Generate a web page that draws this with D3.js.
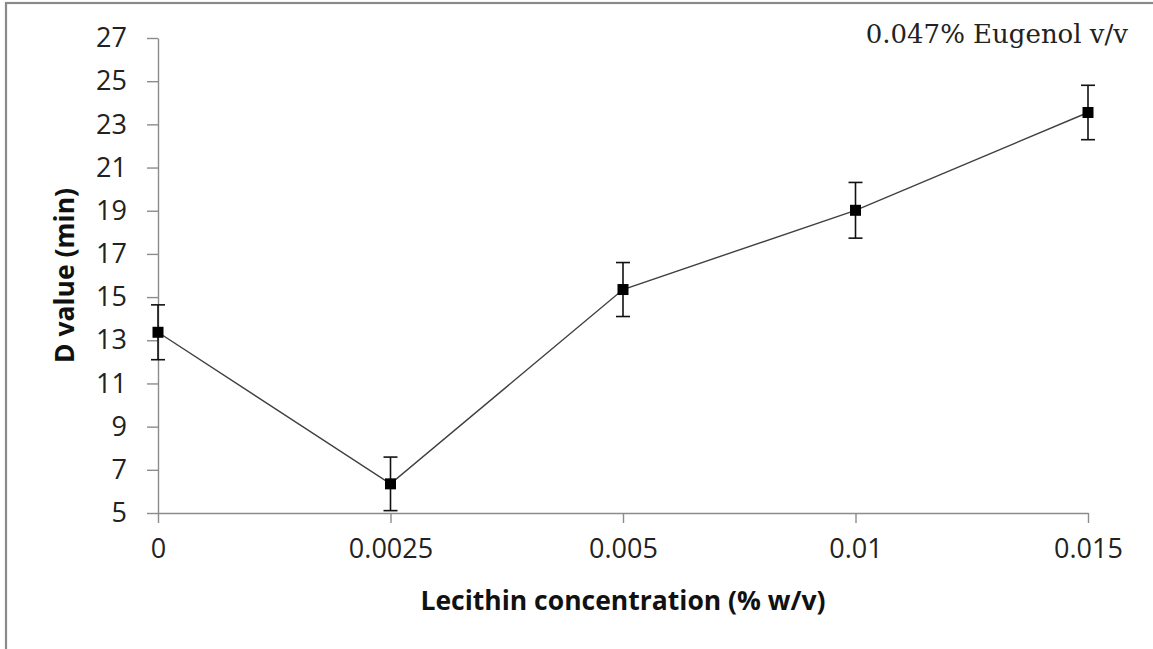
<!DOCTYPE html>
<html>
<head>
<meta charset="utf-8">
<script src="https://cdn.jsdelivr.net/npm/d3@7"></script>
<style>
  body { margin: 0; background: #fff; }
  svg { display: block; }
</style>
</head>
<body>
<svg id="chart" width="1153" height="649"></svg>
<script>
// data
var categories = ["0", "0.0025", "0.005", "0.01", "0.015"];
var dValues = [13.37, 6.35, 15.35, 19.02, 23.55];
var dErrors = [1.27, 1.24, 1.25, 1.29, 1.26];
var yTicks = [5, 7, 9, 11, 13, 15, 17, 19, 21, 23, 25, 27];

var svg = d3.select("#chart");
var width = 1153, height = 649;
var margin = { left: 158, right: 65, top: 38, bottom: 136 };

// outer frame (only top and left edges fall inside the picture)
svg.append("rect")
    .attr("x", 6).attr("y", 3)
    .attr("width", width + 20).attr("height", height + 20)
    .attr("fill", "none")
    .attr("stroke", "#8a8a8a")
    .attr("stroke-width", 2.2);

var x = d3.scalePoint()
    .domain(categories)
    .range([margin.left, width - margin.right]);

var y = d3.scaleLinear()
    .domain([5, 27])
    .range([height - margin.bottom, margin.top]);

var axisColor = "#8c8c8c";
var tickFont = "'Open Sans', 'Noto Sans', sans-serif";

// y axis
var gy = svg.append("g")
    .attr("transform", "translate(" + margin.left + ",0)")
    .call(d3.axisLeft(y).tickValues(yTicks).tickSize(11).tickPadding(20).tickSizeOuter(0));
gy.select(".domain").attr("stroke", axisColor).attr("stroke-width", 1.4);
gy.selectAll(".tick line").attr("stroke", axisColor).attr("stroke-width", 1.4);
gy.selectAll(".tick text")
    .attr("fill", "#222")
    .style("font-family", tickFont)
    .style("font-size", "27px");

// x axis
var gx = svg.append("g")
    .attr("transform", "translate(0," + y(5) + ")")
    .call(d3.axisBottom(x).tickSize(10).tickPadding(16).tickSizeOuter(0));
gx.select(".domain").attr("stroke", axisColor).attr("stroke-width", 1.4);
gx.selectAll(".tick line").attr("stroke", axisColor).attr("stroke-width", 1.4);
gx.selectAll(".tick text")
    .attr("fill", "#222")
    .style("font-family", tickFont)
    .style("font-size", "27px");

// axis titles
svg.append("text")
    .attr("x", (x.range()[0] + x.range()[1]) / 2)
    .attr("y", 610)
    .attr("text-anchor", "middle")
    .style("font-family", tickFont)
    .style("font-weight", "bold")
    .style("font-size", "26.5px")
    .attr("fill", "#111")
    .text("Lecithin concentration (% w/v)");

svg.append("text")
    .attr("transform", "translate(74," + (y(5) + y(27)) / 2 + ") rotate(-90)")
    .attr("text-anchor", "middle")
    .style("font-family", tickFont)
    .style("font-weight", "bold")
    .style("font-size", "26.5px")
    .attr("fill", "#111")
    .text("D value (min)");

// annotation
svg.append("text")
    .attr("x", 1128)
    .attr("y", 43)
    .attr("text-anchor", "end")
    .style("font-family", "'DejaVu Serif', 'Liberation Serif', serif")
    .style("font-size", "26px")
    .attr("fill", "#222")
    .text("0.047% Eugenol v/v");

var points = categories.map(function (c, i) {
    return { cat: c, v: dValues[i], e: dErrors[i] };
});

// connecting line
var line = d3.line()
    .x(function (d) { return x(d.cat); })
    .y(function (d) { return y(d.v); });

svg.append("path")
    .datum(points)
    .attr("d", line)
    .attr("fill", "none")
    .attr("stroke", "#404040")
    .attr("stroke-width", 1.4);

// error bars
var capW = 7;
var eb = svg.append("g").attr("stroke", "#111").attr("stroke-width", 1.6);
points.forEach(function (d) {
    var cx = x(d.cat);
    var top = y(d.v + d.e), bot = y(d.v - d.e);
    eb.append("line").attr("x1", cx).attr("x2", cx).attr("y1", top).attr("y2", bot);
    eb.append("line").attr("x1", cx - capW).attr("x2", cx + capW).attr("y1", top).attr("y2", top);
    eb.append("line").attr("x1", cx - capW).attr("x2", cx + capW).attr("y1", bot).attr("y2", bot);
});

// square markers
var ms = 11;
svg.append("g").selectAll("rect")
    .data(points)
    .join("rect")
    .attr("x", function (d) { return x(d.cat) - ms / 2; })
    .attr("y", function (d) { return y(d.v) - ms / 2; })
    .attr("width", ms)
    .attr("height", ms)
    .attr("fill", "#000");
</script>
</body>
</html>
